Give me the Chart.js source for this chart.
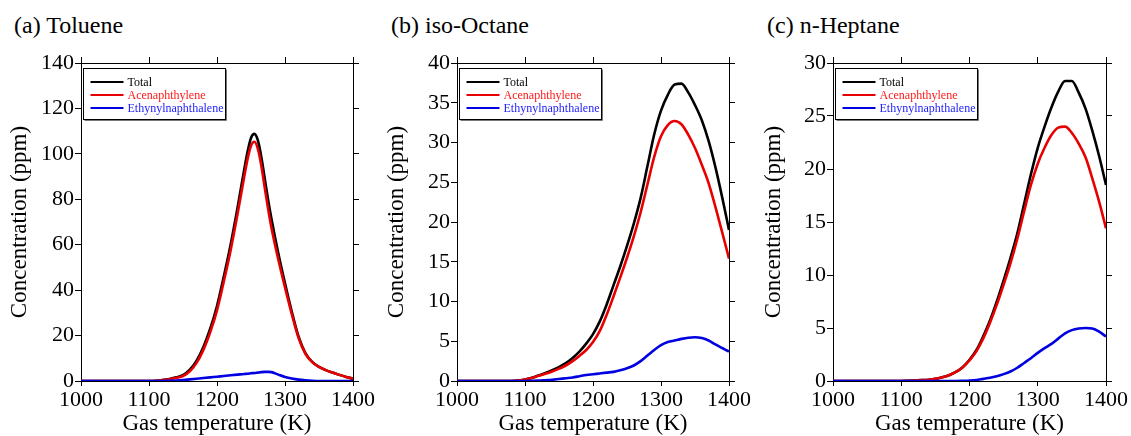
<!DOCTYPE html>
<html>
<head>
<meta charset="utf-8">
<script src="https://cdn.jsdelivr.net/npm/chart.js@4.4.1/dist/chart.umd.min.js"></script>
<style>
  html, body { margin: 0; padding: 0; background: #fff; }
  body { width: 1131px; height: 436px; position: relative; overflow: hidden; }
  .panel { position: absolute; top: 0; width: 377px; height: 436px; }
  .panel canvas { display: block; }
  .label { position: absolute; top: 13px; font-size: 24px; line-height: 24px; color: #000; white-space: nowrap;
           font-family: "Liberation Serif", "Times New Roman", Times, Tinos, "DejaVu Serif", "Noto Serif", serif; }
</style>
</head>
<body>
<div class="label" style="left:14px">(a) Toluene</div>
<div class="label" style="left:391px">(b) iso-Octane</div>
<div class="label" style="left:767px">(c) n-Heptane</div>
<div class="panel" style="left:0px"><canvas id="chartA" width="377" height="436"></canvas></div>
<div class="panel" style="left:377px"><canvas id="chartB" width="377" height="436"></canvas></div>
<div class="panel" style="left:754px"><canvas id="chartC" width="377" height="436"></canvas></div>
<script>
// ---- Series: gas temperature (K) and concentrations (ppm) ----
const seriesNames = ['Total', 'Acenaphthylene', 'Ethynylnaphthalene'];
const xTicks = [1000, 1100, 1200, 1300, 1400];

// (a) Toluene
const tempA = [1000, 1020, 1040, 1060, 1080, 1100, 1110, 1120, 1130, 1140, 1150, 1160, 1170, 1180, 1190,
               1200, 1210, 1220, 1230, 1240, 1245, 1250, 1255, 1260, 1265, 1270, 1275, 1280, 1290, 1300,
               1310, 1320, 1330, 1340, 1350, 1360, 1370, 1380, 1390, 1400];
const totalA = [0, 0, 0, 0, 0, 0, 0.1, 0.4, 0.9, 1.6, 2.6, 5.0, 9.0, 15, 23,
                33, 46, 60, 76, 93, 101, 107, 108.8, 106, 99, 89.5, 80, 71.5, 56.5, 43,
                30.5, 19.5, 12.3, 8.4, 6.2, 4.8, 3.7, 2.7, 1.8, 1.0];
const acenA = [0, 0, 0, 0, 0, 0, 0.1, 0.4, 0.8, 1.4, 2.2, 4.3, 8.0, 13.7, 21.4,
               31.1, 43.8, 57.5, 73.2, 89.9, 97.8, 103.6, 105.3, 102.3, 95.1, 85.5, 76.0, 67.6, 53.7, 41.2,
               29.4, 18.9, 12.0, 8.3, 6.2, 4.8, 3.7, 2.7, 1.8, 1.0];
const ethyA = [0, 0, 0, 0, 0, 0, 0, 0, 0.1, 0.2, 0.4, 0.7, 1.0, 1.3, 1.6,
               1.9, 2.2, 2.5, 2.8, 3.1, 3.2, 3.4, 3.5, 3.7, 3.9, 4.0, 4.0, 3.9, 2.8, 1.8,
               1.1, 0.6, 0.3, 0.1, 0, 0, 0, 0, 0, 0];
const yTicksA = [0, 20, 40, 60, 80, 100, 120, 140];

// (b) iso-Octane
const tempB = [1000, 1020, 1040, 1060, 1080, 1090, 1100, 1110, 1120, 1130, 1140, 1150, 1160, 1170, 1180,
               1190, 1200, 1210, 1220, 1230, 1240, 1250, 1260, 1270, 1280, 1290, 1300, 1310, 1320, 1330,
               1340, 1350, 1360, 1370, 1380, 1390, 1400];
const totalB = [0, 0, 0, 0, 0, 0.05, 0.2, 0.4, 0.7, 1.0, 1.35, 1.75, 2.25, 2.9, 3.7,
                4.7, 5.9, 7.5, 9.6, 12.0, 14.4, 17.0, 19.8, 23.0, 27.0, 31.0, 34.0, 36.0, 37.3, 37.4,
                36.3, 34.7, 32.8, 30.2, 26.9, 23.1, 19.0];
const acenB = [0, 0, 0, 0, 0, 0.05, 0.2, 0.38, 0.65, 0.9, 1.2, 1.55, 1.95, 2.5, 3.15,
               3.9, 4.9, 6.3, 8.3, 10.6, 13.0, 15.5, 18.2, 21.2, 24.7, 28.2, 30.8, 32.2, 32.7, 32.3,
               31.0, 29.3, 27.2, 24.9, 21.9, 18.7, 15.4];
const ethyB = [0, 0, 0, 0, 0, 0, 0, 0.02, 0.05, 0.1, 0.15, 0.25, 0.35, 0.45, 0.6,
               0.75, 0.85, 0.95, 1.05, 1.15, 1.35, 1.6, 1.95, 2.5, 3.2, 3.9, 4.5, 4.9, 5.1, 5.3,
               5.45, 5.5, 5.4, 5.1, 4.6, 4.15, 3.7];
const yTicksB = [0, 5, 10, 15, 20, 25, 30, 35, 40];

// (c) n-Heptane
const tempC = [1000, 1020, 1040, 1060, 1080, 1100, 1110, 1120, 1130, 1140, 1150, 1160, 1170, 1180, 1190,
               1200, 1210, 1220, 1230, 1240, 1250, 1260, 1270, 1280, 1290, 1300, 1310, 1320, 1330, 1340,
               1350, 1360, 1370, 1380, 1390, 1400];
const totalC = [0, 0, 0, 0, 0, 0, 0.02, 0.05, 0.08, 0.12, 0.2, 0.35, 0.55, 0.85, 1.3,
                2.0, 2.9, 4.2, 5.7, 7.5, 9.5, 11.6, 13.9, 16.7, 19.5, 22.0, 24.0, 25.8, 27.3, 28.3,
                28.3, 27.2, 25.7, 23.6, 21.2, 18.5];
const acenC = [0, 0, 0, 0, 0, 0, 0.02, 0.05, 0.08, 0.12, 0.2, 0.35, 0.55, 0.85, 1.3,
               1.95, 2.8, 4.0, 5.5, 7.2, 9.1, 11.1, 13.4, 16.0, 18.5, 20.5, 22.0, 23.2, 23.9, 24.0,
               23.4, 22.4, 21.1, 19.1, 16.9, 14.4];
const ethyC = [0, 0, 0, 0, 0, 0, 0, 0, 0, 0, 0, 0, 0, 0, 0.02,
               0.05, 0.1, 0.2, 0.3, 0.45, 0.65, 0.9, 1.25, 1.7, 2.15, 2.65, 3.1, 3.5, 4.0, 4.5,
               4.8, 4.95, 5.0, 4.95, 4.65, 4.2];
const yTicksC = [0, 5, 10, 15, 20, 25, 30];

// ---- Styling ----
const FONT = '"Liberation Serif", "Times New Roman", Times, Tinos, "DejaVu Serif", "Noto Serif", serif';
const lineColors = ['#000000', '#e80000', '#0000e0'];
const textColors = ['#000000', '#ff1a1a', '#2424ff'];
const CANVAS_W = 377, CANVAS_H = 436;
const PLOT_TOP = 63, PLOT_BOTTOM = 381;

// Boxed legend drawn in the upper-left corner of the plot area
const boxLegend = {
  id: 'boxLegend',
  afterDatasetsDraw(chart) {
    const ctx = chart.ctx;
    const a = chart.chartArea;
    const x0 = a.left + 2.5, y0 = a.top + 5.5, w = 142, h = 51;
    ctx.save();
    ctx.fillStyle = '#fff';
    ctx.fillRect(x0, y0, w, h);
    ctx.strokeStyle = '#777';
    ctx.lineWidth = 1;
    ctx.beginPath();
    ctx.moveTo(x0 + w + 1, y0 + 1);
    ctx.lineTo(x0 + w + 1, y0 + h + 1);
    ctx.lineTo(x0 + 1, y0 + h + 1);
    ctx.stroke();
    ctx.strokeStyle = '#000';
    ctx.strokeRect(x0, y0, w, h);
    ctx.font = '12px ' + FONT;
    ctx.textBaseline = 'middle';
    ctx.textAlign = 'left';
    chart.data.datasets.forEach((ds, i) => {
      const y = Math.round(y0 + 13 + i * 13);
      ctx.strokeStyle = ds.borderColor;
      ctx.lineWidth = 2;
      ctx.beginPath();
      ctx.moveTo(x0 + 7, y);
      ctx.lineTo(x0 + 40, y);
      ctx.stroke();
      ctx.fillStyle = textColors[i];
      ctx.fillText(ds.label, x0 + 44, y + 0.5);
    });
    ctx.restore();
  }
};

function fixSize(prop, value) {
  return scale => {
    scale[prop] = value;
    scale.paddingLeft = 0; scale.paddingRight = 0;
    scale.paddingTop = 0; scale.paddingBottom = 0;
  };
}

function toPoints(temps, values) {
  return temps.map((t, i) => ({ x: t, y: values[i] }));
}

function makePanel(id, temps, series, yTicks, plotLeft, plotRight) {
  const yMin = yTicks[0], yMax = yTicks[yTicks.length - 1], yStep = yTicks[1] - yTicks[0];
  const xMin = xTicks[0], xMax = xTicks[xTicks.length - 1], xStep = xTicks[1] - xTicks[0];
  const tickFont = { family: FONT, size: 22 };
  const titleFont = { family: FONT, size: 23 };
  const axisBorder = { display: true, color: '#000', width: 1 };
  const outerGrid = (len) => ({ drawOnChartArea: false, drawTicks: true, tickLength: len, color: '#000', lineWidth: 1 });
  const asText = v => String(v);

  const datasets = series.map((vals, i) => ({
    label: seriesNames[i],
    data: toPoints(temps, vals),
    borderColor: lineColors[i],
    backgroundColor: lineColors[i],
    borderWidth: 2.6,
    pointRadius: 0,
    fill: false,
    cubicInterpolationMode: 'monotone',
    order: 3 - i
  }));

  return new Chart(document.getElementById(id), {
    type: 'line',
    data: { datasets },
    options: {
      responsive: false,
      animation: false,
      devicePixelRatio: 1,
      layout: { padding: 0, autoPadding: false },
      plugins: { legend: { display: false }, tooltip: { enabled: false }, title: { display: false } },
      scales: {
        x: {
          type: 'linear', position: 'bottom', min: xMin, max: xMax,
          ticks: { stepSize: xStep, autoSkip: false, maxRotation: 0, padding: 1, color: '#000', font: tickFont, callback: asText },
          grid: outerGrid(5),
          border: axisBorder,
          title: { display: true, text: 'Gas temperature (K)', color: '#000', font: titleFont, padding: { top: 0, bottom: -2 } },
          afterFit: fixSize('height', CANVAS_H - PLOT_BOTTOM)
        },
        xTop: {
          type: 'linear', position: 'top', min: xMin, max: xMax,
          ticks: { stepSize: xStep, display: false },
          grid: outerGrid(6),
          border: axisBorder,
          afterFit: fixSize('height', PLOT_TOP)
        },
        y: {
          type: 'linear', position: 'left', min: yMin, max: yMax,
          ticks: { stepSize: yStep, padding: 1, color: '#000', font: tickFont, callback: asText },
          grid: outerGrid(6),
          border: axisBorder,
          title: { display: true, text: 'Concentration (ppm)', color: '#000', font: titleFont, padding: { top: 6, bottom: 0 } },
          afterFit: fixSize('width', plotLeft)
        },
        yRight: {
          type: 'linear', position: 'right', min: yMin, max: yMax,
          ticks: { stepSize: yStep, display: false },
          grid: outerGrid(6),
          border: axisBorder,
          afterFit: fixSize('width', CANVAS_W - plotRight)
        }
      }
    },
    plugins: [boxLegend]
  });
}

makePanel('chartA', tempA, [totalA, acenA, ethyA], yTicksA, 81, 353);
makePanel('chartB', tempB, [totalB, acenB, ethyB], yTicksB, 80, 352);
makePanel('chartC', tempC, [totalC, acenC, ethyC], yTicksC, 79, 352);
</script>
</body>
</html>
